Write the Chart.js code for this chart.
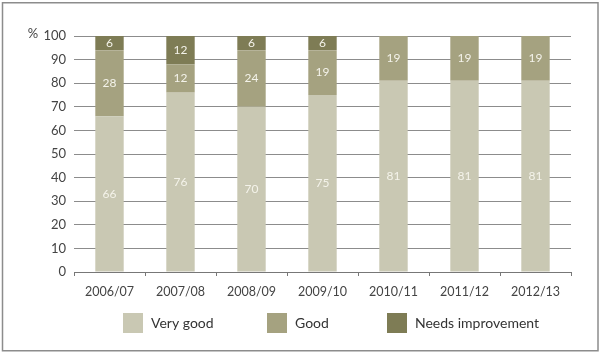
<!DOCTYPE html>
<html>
<head>
  <script src="https://cdn.jsdelivr.net/npm/chart.js@4.4.0/dist/chart.umd.min.js"></script>
  <style>
    body { margin: 0; background: #fff; }
    #wrap { width: 600px; height: 353px; position: relative; }
  </style>
  <script>
    var years = ['2006/07', '2007/08', '2008/09', '2009/10', '2010/11', '2011/12', '2012/13'];
    var veryGood = [66, 76, 70, 75, 81, 81, 81];
    var good = [28, 12, 24, 19, 19, 19, 19];
    var needsImprovement = [6, 12, 6, 6, 0, 0, 0];

    var FONT = 'Lato, "Open Sans", sans-serif';

    // white numbers inside each segment, the legend row, the frame and the % sign
    var extras = {
      id: 'extras',
      afterDatasetsDraw: function (chart) {
        var ctx = chart.ctx;
        ctx.save();
        ctx.font = '12px ' + FONT;
        ctx.fillStyle = '#f4f3ea';
        ctx.textAlign = 'center';
        ctx.textBaseline = 'middle';
        chart.data.datasets.forEach(function (ds, i) {
          chart.getDatasetMeta(i).data.forEach(function (bar, j) {
            var v = ds.data[j];
            if (!v) return;
            ctx.fillText(String(v), bar.x, (bar.y + bar.base) / 2);
          });
        });
        ctx.restore();
      },
      afterDraw: function (chart) {
        var ctx = chart.ctx;
        ctx.save();
        // legend
        var boxX = [123, 267, 387];
        ctx.font = '14px ' + FONT;
        ctx.textBaseline = 'middle';
        ctx.textAlign = 'left';
        chart.data.datasets.forEach(function (ds, i) {
          ctx.fillStyle = ds.backgroundColor;
          ctx.fillRect(boxX[i], 313, 20, 20);
          ctx.fillStyle = '#333';
          ctx.fillText(ds.label, boxX[i] + 28, 323);
        });
        // frame
        ctx.strokeStyle = '#8c8c8c';
        ctx.lineWidth = 1.5;
        ctx.strokeRect(2.5, 2.75, 595.5, 348);
        // unit
        ctx.font = '13px ' + FONT;
        ctx.fillStyle = '#444';
        ctx.textAlign = 'center';
        ctx.fillText('%', 33, chart.scales.y.getPixelForValue(100) - 2);
        ctx.restore();
      }
    };

    function drawGraph(canvasId) {
      var ctx = document.getElementById(canvasId).getContext('2d');
      new Chart(ctx, {
        type: 'bar',
        data: {
          labels: years,
          datasets: [
            { label: 'Very good', backgroundColor: '#c9c8b3', data: veryGood },
            { label: 'Good', backgroundColor: '#a5a280', data: good },
            { label: 'Needs improvement', backgroundColor: '#7e7c55', data: needsImprovement }
          ]
        },
        options: {
          responsive: false,
          animation: false,
          layout: { padding: { top: 36, right: 29, left: 0, bottom: 51 } },
          datasets: { bar: { barPercentage: 0.4, categoryPercentage: 1 } },
          plugins: {
            tooltip: { enabled: false },
            legend: { display: false }
          },
          scales: {
            x: {
              stacked: true,
              grid: { offset: true, drawOnChartArea: false, drawTicks: true, tickLength: 4, color: '#777' },
              border: { display: true, color: '#777' },
              ticks: { color: '#444', font: { family: FONT, size: 12.5 }, padding: 8, maxRotation: 0 },
              afterFit: function (s) { s.height = 30; }
            },
            y: {
              stacked: true,
              min: 0, max: 100,
              grid: { color: '#8c8c8c', drawTicks: false },
              border: { display: false },
              ticks: { stepSize: 10, color: '#444', font: { family: FONT, size: 13 }, padding: 8 },
              afterFit: function (s) { s.width = 74; }
            }
          }
        },
        plugins: [extras]
      });
    }

    window.onload = function () {
      drawGraph('chart');
    };
  </script>
</head>
<body>
  <div id="wrap"><canvas id="chart" width="600" height="353"></canvas></div>
</body>
</html>
